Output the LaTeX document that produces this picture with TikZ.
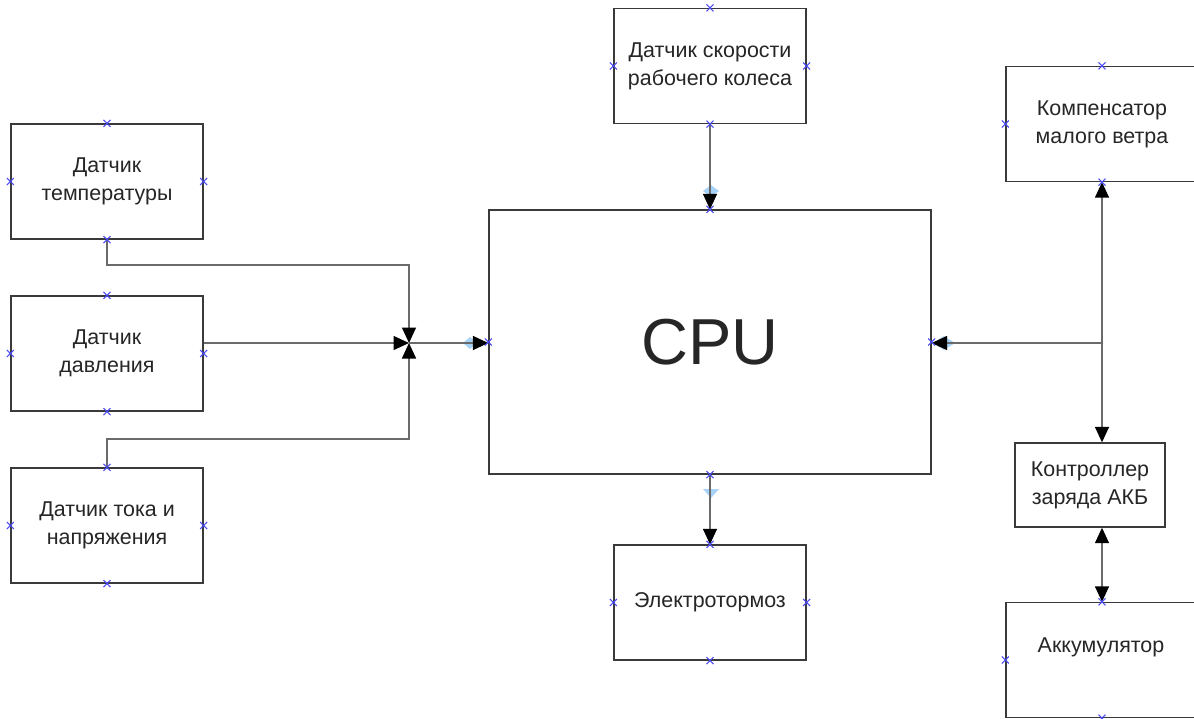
\documentclass[tikz,border=0pt]{standalone}
\usepackage{fontspec}
\setmainfont{Liberation Sans}
\usetikzlibrary{arrows.meta,calc}
\definecolor{linegray}{HTML}{6A6A6A}
\definecolor{boxgray}{HTML}{3A3A3A}
\definecolor{cpblue}{HTML}{4A4AF5}
\definecolor{hintblue}{HTML}{A8D3F8}
\newcommand{\cpx}[1]{\draw[cpblue, line width=0.6pt] ($(#1)+(-3.5,-3.5)$) -- ($(#1)+(3.5,3.5)$) ($(#1)+(-3.5,3.5)$) -- ($(#1)+(3.5,-3.5)$);}

\begin{document}
\begin{tikzpicture}[x=0.02cm, y=-0.02cm,
    box/.style={draw=boxgray, line width=0.8pt, fill=white, minimum width=3.84cm, minimum height=2.3cm, align=center, inner sep=2pt, font=\fontsize{12.2}{16}\selectfont, text=black!85},
    conn/.style={draw=linegray, line width=0.85pt},
    tip/.style={-{Triangle[length=0.31cm,width=0.28cm,fill=black,color=black]}},
    duo/.style={{Triangle[length=0.31cm,width=0.28cm,fill=black,color=black]}-{Triangle[length=0.31cm,width=0.28cm,fill=black,color=black]}}]
    \useasboundingbox (0,0) rectangle (1194,718);

    \node[box] (temp) at (107,181.5) {Датчик\\температуры};
    \node[box] (press) at (107,353.5) {Датчик\\давления};
    \node[box] (curr) at (107,525.5) {Датчик тока и\\напряжения};
    \node[box] (speed) at (710,66) {Датчик скорости\\рабочего колеса};
    \node[box, minimum width=8.84cm, minimum height=5.28cm, font=\fontsize{37}{40}\selectfont] (cpu) at (710,342) {CPU};
    \node[box] (brake) at (710,602.5) {Электротормоз};
    \node[box] (comp) at (1102,124) {Компенсатор\\малого ветра};
    \node[box, minimum width=3cm, minimum height=1.68cm] (ctrl) at (1090,485) {Контроллер\\заряда АКБ};
    \node[box] (batt) at (1102,660) {};
    \node[font=\fontsize{12.2}{16}\selectfont, text=black!85] (battlabel) at (1101,647) {Аккумулятор};

    \coordinate (jn) at (409,343);
    \coordinate (tbend) at (107,265);
    \coordinate (cbend) at (107,439);
    \coordinate (rj) at (1101,343);

    % light blue hints
    \fill[hintblue] (463,343) -- (470,337) -- (477,343) -- (470,349) -- cycle;
    \fill[hintblue] (711,185) -- (719,191) -- (711,197) -- (703,191) -- cycle;
    \fill[hintblue] (933,343) -- (944,336) -- (955,343) -- (944,350) -- cycle;
    \fill[hintblue] (703,489) -- (719,489) -- (711,498) -- cycle;

    % connectors
    \draw[conn, tip] (temp.south) -- (tbend) -| (jn);
    \draw[conn, tip] (curr.north) -- (cbend) -| (jn);
    \draw[conn, tip] (press.east |- jn) -- (jn);
    \draw[conn, tip] (jn) -- (cpu.west |- jn);
    \draw[conn, tip] (speed.south) -- (cpu.north);
    \draw[conn, tip] (cpu.south) -- (brake.north);
    \draw[conn, tip] (rj) -- (cpu.east |- rj);
    \draw[conn, duo] (comp.south) -- (comp.south |- ctrl.north);
    \draw[conn, duo] (ctrl.south -| batt.north) -- (batt.north);

    % connection points
    \cpx{temp.north} \cpx{temp.west} \cpx{temp.east} \cpx{temp.south}
    \cpx{press.north} \cpx{press.west} \cpx{press.east} \cpx{press.south}
    \cpx{curr.north} \cpx{curr.west} \cpx{curr.east} \cpx{curr.south}
    \cpx{speed.north} \cpx{speed.west} \cpx{speed.east} \cpx{speed.south}
    \cpx{cpu.north} \cpx{cpu.west} \cpx{cpu.east} \cpx{cpu.south}
    \cpx{brake.north} \cpx{brake.west} \cpx{brake.east} \cpx{brake.south}
    \cpx{comp.north} \cpx{comp.west} \cpx{comp.south}
    \cpx{batt.north} \cpx{batt.west} \cpx{batt.south}
\end{tikzpicture}
\end{document}
